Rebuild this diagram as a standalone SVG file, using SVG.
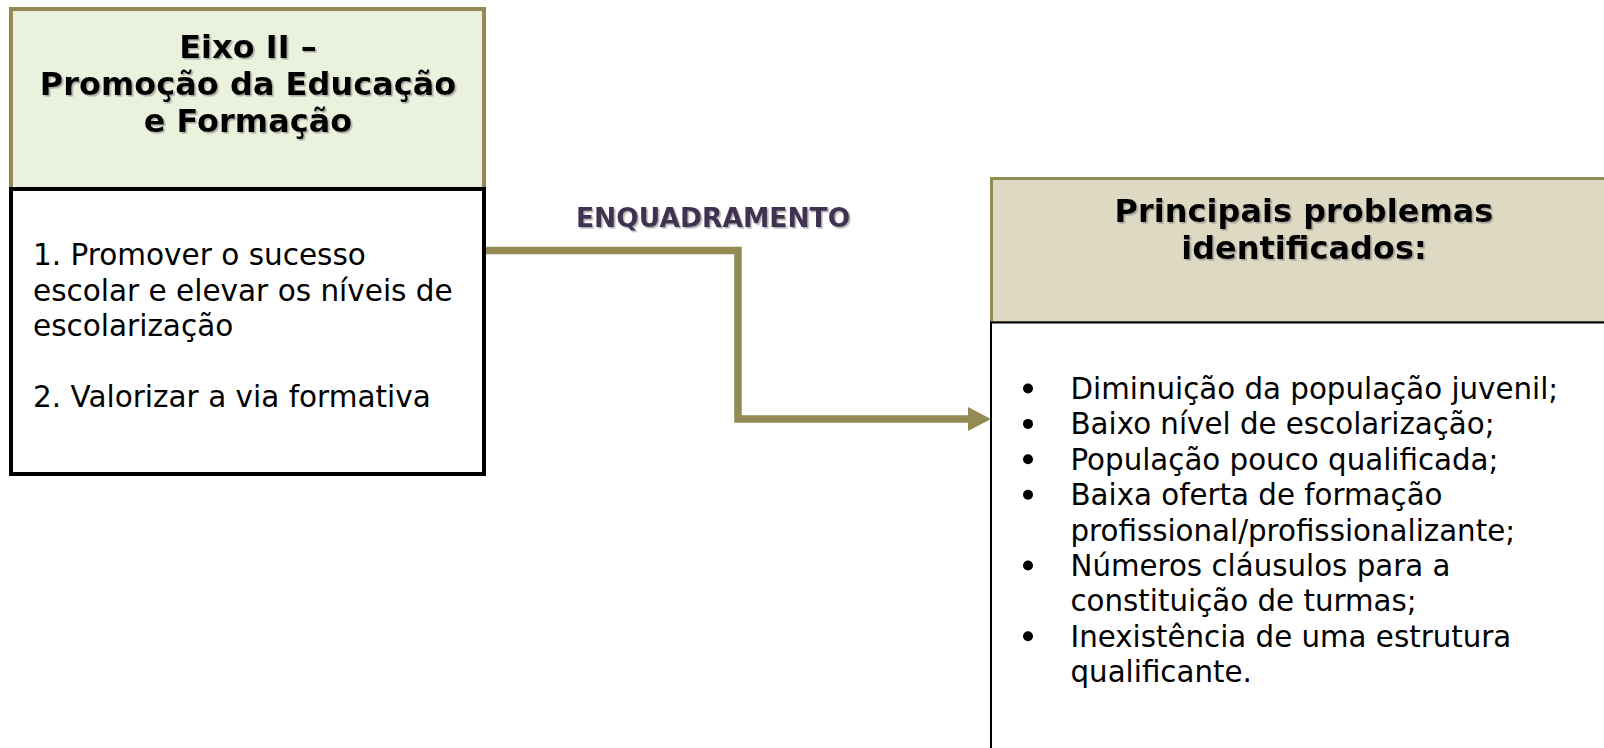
<svg xmlns="http://www.w3.org/2000/svg" width="1604" height="748" viewBox="0 0 1604 748">
<defs>
<style>
.hdr{font-family:"DejaVu Sans","Verdana",sans-serif;font-weight:bold;font-size:32px;fill:#000;text-anchor:middle}
.body{font-family:"DejaVu Sans","Verdana",sans-serif;font-size:29.5px;fill:#000}
.bul{font-family:"DejaVu Sans","Verdana",sans-serif;font-size:29.3px;fill:#000}
.lbl{font-family:"DejaVu Sans","Verdana",sans-serif;font-weight:bold;font-size:26.5px;fill:#3F3151}
.conn{fill:none;stroke:#948A54;stroke-width:7.5;stroke-linejoin:miter}
</style>
<filter id="sh" x="-5%" y="-20%" width="110%" height="150%">
<feDropShadow dx="1.6" dy="1.6" stdDeviation="0.6" flood-color="#808080" flood-opacity="0.6"/>
</filter>
<marker id="arr" viewBox="0 0 24 24" refX="0" refY="12" markerWidth="24" markerHeight="24" markerUnits="userSpaceOnUse" orient="auto">
<path d="M0,0 L23,12 L0,24 Z" fill="#948A54"/>
</marker>
</defs>
<rect width="1604" height="748" fill="#fff"/>

<g id="eixo">
<rect x="11" y="9" width="473" height="180" fill="#EAF1DD" stroke="#948A54" stroke-width="4"/>
<rect x="11" y="189" width="473" height="285" fill="#fff" stroke="#000" stroke-width="4"/>
<g filter="url(#sh)">
<text class="hdr" x="248" y="57.5">Eixo II –</text>
<text class="hdr" x="248" y="94.5">Promoção da Educação</text>
<text class="hdr" x="248" y="131.5">e Formação</text>
</g>
<text class="body" x="33" y="265">1. Promover o sucesso</text>
<text class="body" x="33" y="300.5">escolar e elevar os níveis de</text>
<text class="body" x="33" y="336">escolarização</text>
<text class="body" x="33" y="406.5">2. Valorizar a via formativa</text>
</g>

<g id="problemas">
<rect x="991.5" y="178.5" width="700" height="144" fill="#DDD9C3" stroke="#948A54" stroke-width="3"/>
<rect x="991" y="322.5" width="700" height="500" fill="#fff" stroke="#000" stroke-width="2"/>
<g filter="url(#sh)">
<text class="hdr" x="1304" y="221.5">Principais problemas</text>
<text class="hdr" x="1304" y="259">identificados:</text>
</g>
<g fill="#000">
<circle cx="1028" cy="388.5" r="5"/>
<circle cx="1028" cy="423.9" r="5"/>
<circle cx="1028" cy="459.3" r="5"/>
<circle cx="1028" cy="494.7" r="5"/>
<circle cx="1028" cy="565.5" r="5"/>
<circle cx="1028" cy="636.3" r="5"/>
</g>
<text class="bul" x="1070.5" y="399">Diminuição da população juvenil;</text>
<text class="bul" x="1070.5" y="434.4">Baixo nível de escolarização;</text>
<text class="bul" x="1070.5" y="469.8">População pouco qualificada;</text>
<text class="bul" x="1070.5" y="505.2">Baixa oferta de formação</text>
<text class="bul" x="1070.5" y="540.6">profissional/profissionalizante;</text>
<text class="bul" x="1070.5" y="576">Números cláusulos para a</text>
<text class="bul" x="1070.5" y="611.4">constituição de turmas;</text>
<text class="bul" x="1070.5" y="646.8">Inexistência de uma estrutura</text>
<text class="bul" x="1070.5" y="682.2">qualificante.</text>
</g>

<g id="connectors">
<path class="conn" d="M486,250.5 H738 V419 H968" marker-end="url(#arr)"/>
<text class="lbl" x="576" y="226.5" filter="url(#sh)">ENQUADRAMENTO</text>
</g>
</svg>
